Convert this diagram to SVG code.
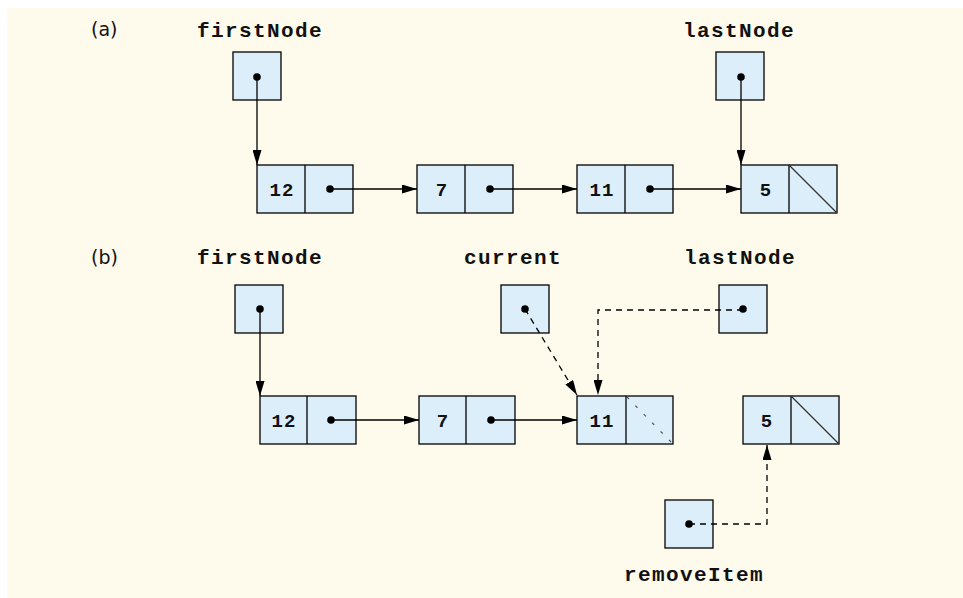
<svg xmlns="http://www.w3.org/2000/svg" width="963" height="598" viewBox="0 0 963 598">
<style>
.bg{fill:#FEFAEC}
.box{fill:#DCEEFA;stroke:#000;stroke-width:1.3}
.div{stroke:#000;stroke-width:1.3}
.dot{fill:#000}
.lbl{font-family:"Liberation Mono",monospace;font-weight:bold;font-size:21px;letter-spacing:1.4px;fill:#111;text-anchor:middle}
.val{font-family:"Liberation Mono",monospace;font-weight:bold;font-size:19px;letter-spacing:1px;fill:#111;text-anchor:middle}
.tag{font-family:"DejaVu Sans",sans-serif;font-size:19px;fill:#111}
.ln{fill:none;stroke:#000;stroke-width:1.3}
.dash{fill:none;stroke:#000;stroke-width:1.3;stroke-dasharray:6 5}
.slash{stroke:#333;stroke-width:1.3}
.ghost{stroke:#555;stroke-width:1.2;stroke-dasharray:3 9}
</style>
<defs>
<marker id="ah" viewBox="0 0 15 9" refX="15" refY="4.5" markerWidth="15" markerHeight="9" markerUnits="userSpaceOnUse" orient="auto">
<path d="M0,0 L15,4.5 L0,9 z" fill="#000"/>
</marker>
</defs>
<rect class="bg" x="7" y="8" width="956" height="590"/>

<text class="tag" x="91" y="36">(a)</text>
<text class="tag" x="91" y="264">(b)</text>

<!-- Part (a) -->
<g id="a-firstNode">
<text class="lbl" x="260" y="37">firstNode</text>
<rect class="box" x="233" y="52" width="48" height="48"/>
<circle class="dot" cx="257" cy="77" r="3.8"/>
</g>
<g id="a-lastNode">
<text class="lbl" x="739" y="37">lastNode</text>
<rect class="box" x="716" y="52" width="48" height="48"/>
<circle class="dot" cx="741" cy="77" r="3.8"/>
</g>
<g id="a-node12">
<rect class="box" x="257" y="165" width="96" height="48"/>
<line class="div" x1="305" y1="165" x2="305" y2="213"/>
<text class="val" x="282" y="196">12</text>
<circle class="dot" cx="330" cy="189" r="3.8"/>
</g>
<g id="a-node7">
<rect class="box" x="417" y="165" width="96" height="48"/>
<line class="div" x1="465" y1="165" x2="465" y2="213"/>
<text class="val" x="442" y="196">7</text>
<circle class="dot" cx="490" cy="189" r="3.8"/>
</g>
<g id="a-node11">
<rect class="box" x="577" y="165" width="96" height="48"/>
<line class="div" x1="625" y1="165" x2="625" y2="213"/>
<text class="val" x="602" y="196">11</text>
<circle class="dot" cx="650" cy="189" r="3.8"/>
</g>
<g id="a-node5">
<rect class="box" x="741" y="165" width="96" height="48"/>
<line class="div" x1="789" y1="165" x2="789" y2="213"/>
<line class="slash" x1="789" y1="165" x2="837" y2="213"/>
<text class="val" x="766" y="196">5</text>
</g>

<!-- Part (b) -->
<g id="b-firstNode">
<text class="lbl" x="260" y="264">firstNode</text>
<rect class="box" x="235" y="285" width="48" height="48"/>
<circle class="dot" cx="260" cy="309" r="3.8"/>
</g>
<g id="b-current">
<text class="lbl" x="513" y="264">current</text>
<rect class="box" x="501" y="285" width="48" height="48"/>
<circle class="dot" cx="525" cy="309" r="3.8"/>
</g>
<g id="b-lastNode">
<text class="lbl" x="740" y="264">lastNode</text>
<rect class="box" x="719" y="285" width="48" height="48"/>
<circle class="dot" cx="743" cy="309" r="3.8"/>
</g>
<g id="b-node12">
<rect class="box" x="260" y="396" width="96" height="48"/>
<line class="div" x1="307" y1="396" x2="307" y2="444"/>
<text class="val" x="284" y="427">12</text>
<circle class="dot" cx="331" cy="420" r="3.8"/>
</g>
<g id="b-node7">
<rect class="box" x="419" y="396" width="96" height="48"/>
<line class="div" x1="466" y1="396" x2="466" y2="444"/>
<text class="val" x="443" y="427">7</text>
<circle class="dot" cx="491" cy="420" r="3.8"/>
</g>
<g id="b-node11">
<rect class="box" x="577" y="396" width="96" height="48"/>
<line class="div" x1="626" y1="396" x2="626" y2="444"/>
<line class="ghost" x1="627" y1="397" x2="672" y2="443"/>
<text class="val" x="602" y="427">11</text>
</g>
<g id="b-node5">
<rect class="box" x="743" y="396" width="96" height="48"/>
<line class="div" x1="791" y1="396" x2="791" y2="444"/>
<line class="slash" x1="791" y1="396" x2="839" y2="444"/>
<text class="val" x="767" y="427">5</text>
</g>
<g id="b-removeItem">
<rect class="box" x="665" y="500" width="48" height="48"/>
<circle class="dot" cx="689" cy="524" r="3.8"/>
<text class="lbl" x="694" y="581">removeItem</text>
</g>

<g id="connectors">
<line class="ln" x1="257" y1="77" x2="257" y2="165" marker-end="url(#ah)"/>
<line class="ln" x1="741" y1="77" x2="741" y2="165" marker-end="url(#ah)"/>
<line class="ln" x1="330" y1="189" x2="417" y2="189" marker-end="url(#ah)"/>
<line class="ln" x1="490" y1="189" x2="577" y2="189" marker-end="url(#ah)"/>
<line class="ln" x1="650" y1="189" x2="741" y2="189" marker-end="url(#ah)"/>

<line class="ln" x1="260" y1="309" x2="260" y2="396" marker-end="url(#ah)"/>
<line class="ln" x1="331" y1="420" x2="419" y2="420" marker-end="url(#ah)"/>
<line class="ln" x1="491" y1="420" x2="577" y2="420" marker-end="url(#ah)"/>
<line class="dash" x1="525" y1="309" x2="577" y2="395" marker-end="url(#ah)"/>
<path class="dash" d="M743,310 H598 V395" marker-end="url(#ah)"/>
<path class="dash" d="M689,524 H767 V445" marker-end="url(#ah)"/>
</g>
</svg>
